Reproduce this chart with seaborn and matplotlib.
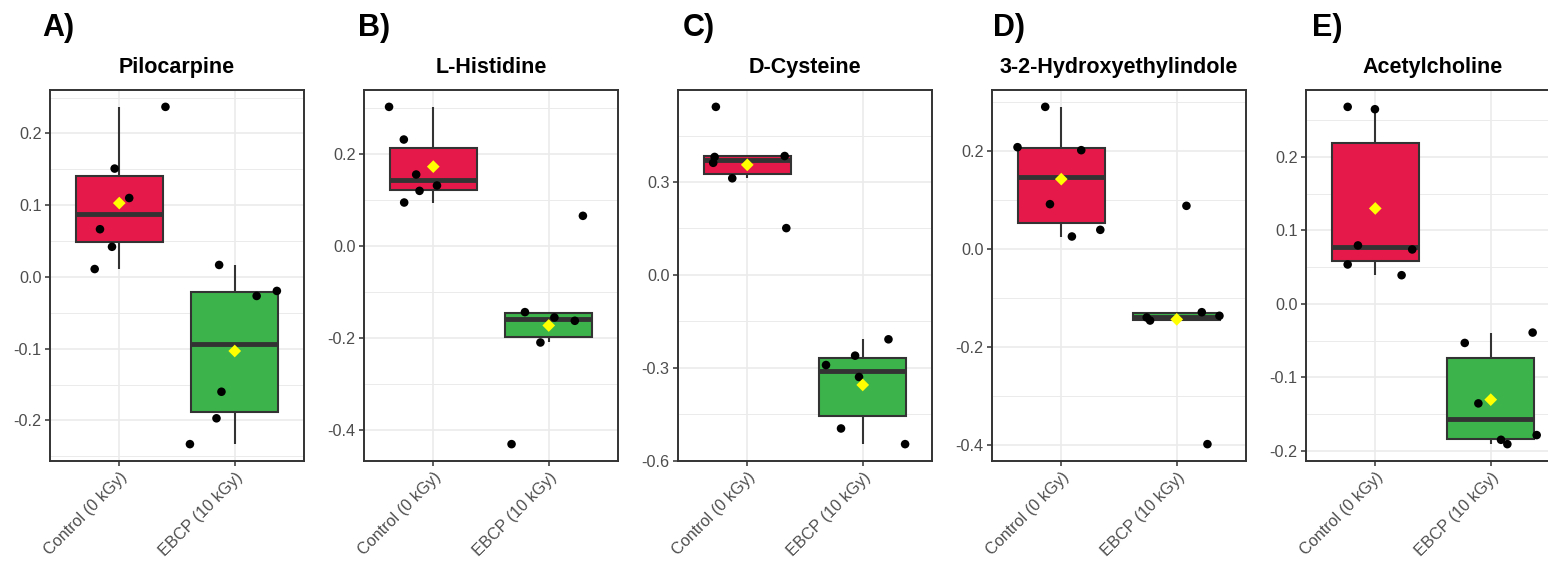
import numpy as np
import pandas as pd
import matplotlib
matplotlib.use("Agg")
import matplotlib.pyplot as plt
import seaborn as sns
from matplotlib.ticker import FixedLocator, FormatStrFormatter

# ---------------- data ----------------
groups = ["Control (0 kGy)", "EBCP (10 kGy)"]
titles = ["Pilocarpine", "L-Histidine", "D-Cysteine", "3-2-Hydroxyethylindole", "Acetylcholine"]
panel_labels = ["A)", "B)", "C)", "D)", "E)"]

pilocarpine_control = [0.237, 0.151, 0.110, 0.0665, 0.042, 0.011]
pilocarpine_control_jitter = [0.40, -0.04, 0.086, -0.167, -0.063, -0.213]
pilocarpine_ebcp = [0.0167, -0.0265, -0.0195, -0.160, -0.197, -0.233]
pilocarpine_ebcp_jitter = [-0.135, 0.19, 0.365, -0.115, -0.158, -0.388]

histidine_control = [0.3016, 0.2307, 0.1548, 0.1193, 0.1309, 0.094]
histidine_control_jitter = [-0.383, -0.255, -0.148, -0.119, 0.032, -0.252]
histidine_ebcp = [-0.1439, -0.2098, -0.1555, -0.1627, 0.0651, -0.4304]
histidine_ebcp_jitter = [-0.206, -0.072, 0.049, 0.226, 0.296, -0.322]

cysteine_control = [0.5428, 0.381, 0.362, 0.312, 0.384, 0.151]
cysteine_control_jitter = [-0.272, -0.283, -0.295, -0.130, 0.324, 0.338]
cysteine_ebcp = [-0.2914, -0.2611, -0.330, -0.2083, -0.4964, -0.547]
cysteine_ebcp_jitter = [-0.318, -0.066, -0.032, 0.223, -0.188, 0.367]

indole_control = [0.2898, 0.2075, 0.2014, 0.0912, 0.0252, 0.0388]
indole_control_jitter = [-0.139, -0.379, 0.173, -0.098, 0.092, 0.338]
indole_ebcp = [-0.1401, -0.1463, 0.0878, -0.1293, -0.1367, -0.3986]
indole_ebcp_jitter = [-0.260, -0.231, 0.084, 0.217, 0.370, 0.266]

acetyl_control = [0.2679, 0.2647, 0.0795, 0.0740, 0.0536, 0.0390]
acetyl_control_jitter = [-0.239, -0.003, -0.150, 0.320, -0.239, 0.228]
acetyl_ebcp = [-0.0531, -0.039, -0.1353, -0.1848, -0.1907, -0.1784]
acetyl_ebcp_jitter = [-0.225, 0.363, -0.107, 0.089, 0.144, 0.398]

major_ticks = [
    [-0.2, -0.1, 0.0, 0.1, 0.2],
    [-0.4, -0.2, 0.0, 0.2],
    [-0.6, -0.3, 0.0, 0.3],
    [-0.4, -0.2, 0.0, 0.2],
    [-0.2, -0.1, 0.0, 0.1, 0.2],
]

box_colors = {groups[0]: "#E6194B", groups[1]: "#3CB44B"}

panels = [
    (pilocarpine_control, pilocarpine_control_jitter, pilocarpine_ebcp, pilocarpine_ebcp_jitter),
    (histidine_control, histidine_control_jitter, histidine_ebcp, histidine_ebcp_jitter),
    (cysteine_control, cysteine_control_jitter, cysteine_ebcp, cysteine_ebcp_jitter),
    (indole_control, indole_control_jitter, indole_ebcp, indole_ebcp_jitter),
    (acetyl_control, acetyl_control_jitter, acetyl_ebcp, acetyl_ebcp_jitter),
]

# ---------------- style ----------------
sns.set_theme(style="white")
plt.rcParams['font.family'] = ['Liberation Sans', 'DejaVu Sans']
plt.rcParams['axes.unicode_minus'] = False

W, H = 1548, 572
fig = plt.figure(figsize=(W / 100, H / 100), dpi=100)
fig.patch.set_facecolor("white")

lefts = [50, 364, 678, 992, 1306]
aw = 254
top_px, bot_px = 90, 461
label_x = [42, 358, 683, 993, 1312]

for i, (c, cj, e, ej) in enumerate(panels):
    ax = fig.add_axes([lefts[i] / W, 1 - bot_px / H, aw / W, (bot_px - top_px) / H])
    df = pd.DataFrame({"group": [groups[0]] * len(c) + [groups[1]] * len(e),
                       "value": list(c) + list(e)})
    sns.boxplot(data=df, x="group", y="value", hue="group", order=groups,
                hue_order=groups, palette=box_colors, saturation=1, width=0.75,
                showfliers=False, showcaps=False, linecolor="#333333",
                linewidth=1.5, medianprops=dict(linewidth=3.5, color="#333333"),
                legend=False, ax=ax)
    xs = [0 + j for j in cj] + [1 + j for j in ej]
    sns.scatterplot(x=xs, y=list(c) + list(e), color="black", s=38,
                    edgecolor="none", linewidth=0, ax=ax, zorder=5, legend=False)
    means = [np.mean(c), np.mean(e)]
    sns.scatterplot(x=[0, 1], y=means, marker="D", color="#FFFF00", s=42,
                    edgecolor="none", linewidth=0, ax=ax, zorder=6, legend=False)

    vals = list(c) + list(e)
    lo, hi = min(vals), max(vals)
    pad = 0.05 * (hi - lo)
    ylo, yhi = lo - pad, hi + pad
    ax.set_xlim(-0.6, 1.6)
    ax.set_ylim(ylo, yhi)

    mj = major_ticks[i]
    step = mj[1] - mj[0]
    minors = [m + step / 2 for m in [mj[0] - step] + mj]
    minors = [m for m in minors if ylo <= m <= yhi]
    ax.yaxis.set_major_locator(FixedLocator(mj))
    ax.yaxis.set_minor_locator(FixedLocator(minors))
    ax.yaxis.set_major_formatter(FormatStrFormatter("%.1f"))

    ax.set_axisbelow(True)
    ax.grid(which="major", color="#EBEBEB", linewidth=1.2)
    ax.grid(which="minor", axis="y", color="#EBEBEB", linewidth=0.7)

    ax.set_xticks([0, 1])
    ax.set_xticklabels(groups, rotation=45, ha="right", va="top",
                       rotation_mode="anchor")
    ax.tick_params(which="major", length=3.5, width=1.1, color="#333333",
                   labelsize=11.7, labelcolor="#4D4D4D", pad=2.5,
                   left=True, bottom=True)
    ax.tick_params(which="minor", length=0)
    ax.set_xlabel("")
    ax.set_ylabel("")
    for sp in ax.spines.values():
        sp.set_color("#333333")
        sp.set_linewidth(1.4)
    ax.set_title(titles[i], fontsize=15.5, fontweight="bold", pad=12, color="black")

    fig.text(label_x[i] / W, 1 - 36 / H, panel_labels[i], fontsize=22,
             fontweight="bold", va="baseline", ha="left", color="black")

fig.savefig("out.png", dpi=100, facecolor="white")
